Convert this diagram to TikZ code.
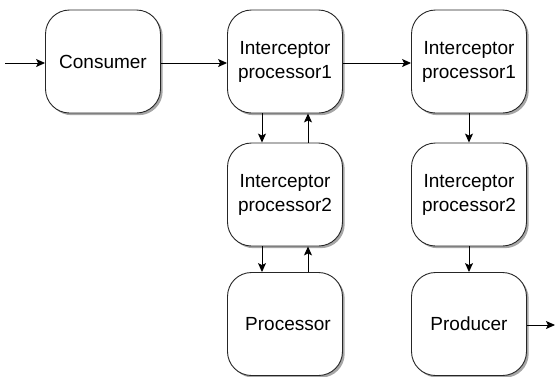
\documentclass[tikz,border=0pt]{standalone}
\usepackage{fontspec}
\setmainfont{Liberation Sans}
\usetikzlibrary{arrows.meta,shadows}
\begin{document}
\begin{tikzpicture}[x=1pt,y=-1pt,
  box/.style={draw=black!85, line width=0.9pt, rounded corners=24pt, fill=white,
    minimum width=115pt, minimum height=103pt, inner sep=0pt, align=center,
    font=\fontsize{19}{24}\selectfont,
    drop shadow={shadow xshift=2.2pt, shadow yshift=-2.2pt, fill=black!35, opacity=1}},
  conn/.style={line width=0.9pt, -{Stealth[length=9pt,width=8pt,inset=2pt]}}]
\useasboundingbox (0,0) rectangle (558,376);
\node[box] (cons) at (103,61.5) {Consumer};
\node[box] (ia1) at (285,61.5) {Interceptor\\processor1};
\node[box] (ia2) at (285,194.5) {Interceptor\\processor2};
\node[box] (proc) at (285,324) {\hspace*{6pt}Processor};
\node[box] (ib1) at (469,61.5) {Interceptor\\processor1};
\node[box] (ib2) at (469,194.5) {Interceptor\\processor2};
\node[box] (prod) at (469,324) {Producer};
\coordinate (in) at (5,63);
\coordinate (out) at (555,325);
\draw[conn] (in) -- (cons.west |- in);
\draw[conn] (cons.east |- in) -- (ia1.west |- in);
\draw[conn] (ia1.east |- in) -- (ib1.west |- in);
\draw[conn] ([xshift=-23pt]ia1.south) -- ([xshift=-23pt]ia2.north);
\draw[conn] ([xshift=23pt]ia2.north) -- ([xshift=23pt]ia1.south);
\draw[conn] ([xshift=-23pt]ia2.south) -- ([xshift=-23pt]proc.north);
\draw[conn] ([xshift=23pt]proc.north) -- ([xshift=23pt]ia2.south);
\draw[conn] (ib1.south) -- (ib2.north);
\draw[conn] (ib2.south) -- (prod.north);
\draw[conn] (prod.east |- out) -- (out);
\end{tikzpicture}
\end{document}
